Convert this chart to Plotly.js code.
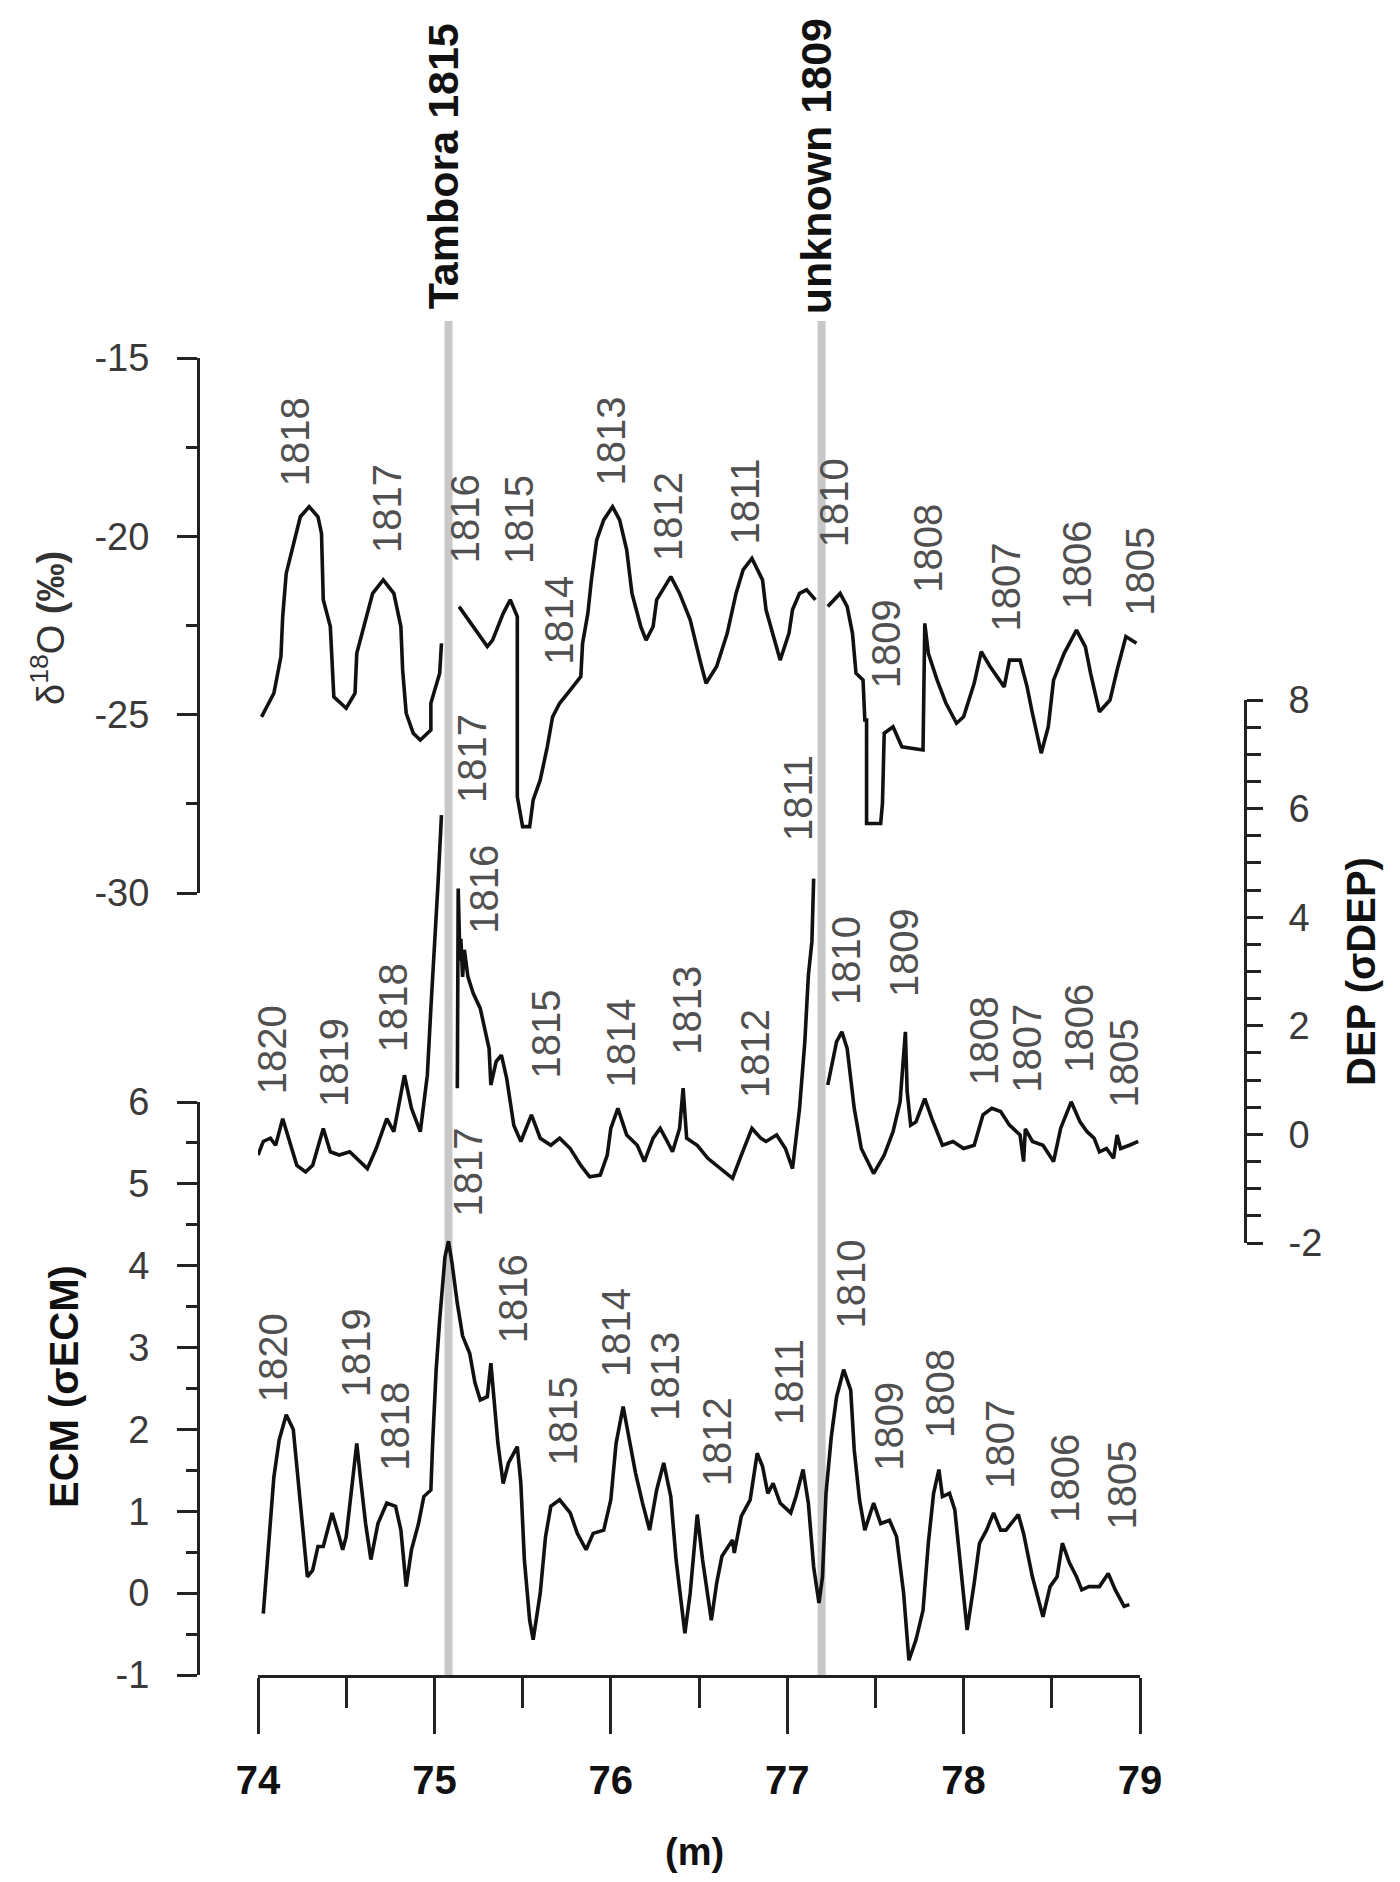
<!DOCTYPE html>
<html>
<head>
<meta charset="utf-8">
<script src="https://cdn.plot.ly/plotly-3.0.1.min.js"></script>
<style>
  html, body { margin: 0; padding: 0; background: #fff; }
  #chart { width: 1400px; height: 1882px; }
</style>
</head>
<body>
<div id="chart"></div>
<script>
/* Ice core series, depth in m (null = gap at the marker lines) */
let d18oDepth = [74.02,74.09,74.13,74.14,74.16,74.21,74.24,74.29,74.34,74.36,74.37,74.41,74.43,74.50,74.55,74.56,74.62,74.65,74.71,74.77,74.81,74.82,74.84,74.88,74.92,74.98,74.98,75.03,75.04,null,
  75.14,75.22,75.30,75.33,75.39,75.43,75.47,75.47,75.50,75.54,75.56,75.60,75.64,75.67,75.71,75.77,75.83,75.84,75.87,75.89,75.92,75.96,76.01,76.05,76.09,76.12,76.17,76.20,76.24,76.26,76.34,76.39,76.45,76.51,76.54,76.60,76.66,76.71,76.75,76.80,76.86,76.88,76.92,76.96,77.01,77.03,77.07,77.11,77.16,null,
  77.23,77.30,77.34,77.37,77.39,77.43,77.44,77.45,77.45,77.53,77.54,77.55,77.60,77.65,77.77,77.78,77.80,77.85,77.90,77.96,78.00,78.06,78.10,78.15,78.23,78.26,78.32,78.36,78.39,78.44,78.48,78.51,78.57,78.64,78.69,78.72,78.77,78.83,78.87,78.92,78.98];
let d18oValues = [-25.06,-24.40,-23.37,-22.25,-21.04,-20.10,-19.45,-19.17,-19.45,-19.92,-21.78,-22.53,-24.50,-24.82,-24.40,-23.28,-22.16,-21.60,-21.22,-21.60,-22.53,-23.75,-24.96,-25.52,-25.71,-25.43,-24.68,-23.84,-23.00,null,
  -21.97,-22.53,-23.09,-22.91,-22.16,-21.78,-22.25,-27.30,-28.14,-28.14,-27.39,-26.83,-25.90,-25.06,-24.68,-24.31,-23.93,-23.00,-22.16,-21.22,-20.10,-19.54,-19.17,-19.54,-20.38,-21.60,-22.53,-22.91,-22.53,-21.78,-21.13,-21.60,-22.34,-23.56,-24.12,-23.65,-22.72,-21.60,-20.94,-20.62,-21.22,-22.06,-22.81,-23.47,-22.72,-22.06,-21.60,-21.50,-21.78,null,
  -21.97,-21.60,-21.97,-22.72,-23.84,-24.03,-25.15,-25.15,-28.05,-28.05,-27.49,-25.52,-25.34,-25.90,-25.99,-22.44,-23.28,-24.03,-24.68,-25.24,-25.06,-24.12,-23.23,-23.65,-24.22,-23.47,-23.47,-24.22,-24.96,-26.08,-25.34,-24.03,-23.28,-22.63,-23.09,-23.84,-24.92,-24.59,-23.75,-22.81,-23.00];

let depDepth = [74.00,74.03,74.07,74.10,74.14,74.18,74.22,74.27,74.31,74.37,74.41,74.46,74.52,74.62,74.67,74.73,74.77,74.83,74.87,74.92,74.96,74.98,75.00,75.02,75.04,null,
  75.13,75.135,75.145,75.15,75.16,75.17,75.19,75.22,75.26,75.31,75.32,75.35,75.38,75.41,75.45,75.49,75.55,75.60,75.66,75.71,75.77,75.83,75.88,75.94,75.98,76.00,76.04,76.09,76.15,76.19,76.24,76.28,76.32,76.35,76.39,76.41,76.43,76.49,76.55,76.64,76.69,76.74,76.80,76.85,76.88,76.94,76.99,77.03,77.07,77.10,77.12,77.14,77.15,null,
  77.23,77.28,77.31,77.34,77.38,77.42,77.49,77.55,77.60,77.64,77.67,77.68,77.70,77.73,77.78,77.82,77.88,77.94,78.00,78.06,78.11,78.16,78.21,78.26,78.32,78.34,78.35,78.39,78.45,78.51,78.55,78.61,78.66,78.70,78.74,78.77,78.81,78.85,78.87,78.89,78.94,78.99];
let depValues = [-0.38,-0.13,-0.07,-0.20,0.29,-0.13,-0.57,-0.69,-0.57,0.11,-0.32,-0.38,-0.32,-0.63,-0.26,0.29,0.05,1.09,0.48,0.05,1.09,2.32,3.36,4.59,5.88,null,
  0.85,4.53,3.20,3.60,2.90,3.40,2.90,2.60,2.32,1.58,0.91,1.34,1.46,1.03,0.17,-0.13,0.36,-0.07,-0.20,-0.07,-0.26,-0.57,-0.78,-0.75,-0.38,0.11,0.48,-0.01,-0.20,-0.50,-0.07,0.11,-0.13,-0.32,0.11,0.85,-0.07,-0.20,-0.44,-0.69,-0.81,-0.38,0.11,-0.07,-0.13,-0.01,-0.26,-0.63,0.48,1.71,2.93,3.55,4.71,null,
  0.91,1.71,1.89,1.58,0.48,-0.26,-0.72,-0.38,0.05,0.60,1.89,0.79,0.17,0.23,0.66,0.29,-0.20,-0.13,-0.26,-0.20,0.36,0.48,0.42,0.17,-0.01,-0.50,0.10,-0.13,-0.20,-0.50,0.11,0.60,0.23,0.05,-0.07,-0.32,-0.26,-0.44,-0.01,-0.26,-0.20,-0.13];

let ecmDepth = [74.03,74.06,74.09,74.12,74.16,74.20,74.23,74.26,74.28,74.31,74.34,74.37,74.42,74.46,74.48,74.50,74.53,74.56,74.58,74.61,74.64,74.68,74.73,74.78,74.81,74.84,74.87,74.91,74.94,74.98,74.99,75.01,75.03,75.06,75.08,75.10,75.13,75.16,75.20,75.23,75.26,75.30,75.32,75.34,75.36,75.39,75.42,75.47,75.49,75.51,75.54,75.56,75.60,75.63,75.66,75.71,75.77,75.81,75.86,75.90,75.96,76.00,76.03,76.07,76.11,76.14,76.18,76.22,76.26,76.30,76.34,76.37,76.42,76.45,76.49,76.52,76.57,76.60,76.63,76.69,76.70,76.74,76.79,76.83,76.86,76.89,76.92,76.96,77.02,77.05,77.09,77.12,77.15,77.18,77.20,77.22,77.25,77.28,77.32,77.36,77.38,77.41,77.44,77.49,77.53,77.58,77.62,77.66,77.69,77.73,77.77,77.80,77.83,77.86,77.88,77.92,77.95,77.98,78.02,78.06,78.09,78.13,78.17,78.21,78.24,78.31,78.34,78.39,78.45,78.49,78.53,78.56,78.60,78.64,78.67,78.71,78.77,78.82,78.86,78.91,78.94];
let ecmValues = [-0.25,0.61,1.42,1.87,2.18,2.00,1.34,0.61,0.20,0.28,0.57,0.57,0.98,0.69,0.53,0.69,1.30,1.83,1.42,0.85,0.41,0.85,1.10,1.06,0.77,0.08,0.53,0.85,1.18,1.26,1.83,2.73,3.34,4.11,4.30,4.03,3.54,3.14,2.93,2.57,2.36,2.40,2.81,2.32,1.83,1.34,1.59,1.79,1.34,0.41,-0.33,-0.57,0.00,0.69,1.06,1.14,0.98,0.73,0.53,0.73,0.77,1.14,1.83,2.28,1.83,1.47,1.10,0.77,1.26,1.59,1.18,0.41,-0.49,0.00,0.96,0.41,-0.33,0.12,0.45,0.65,0.49,0.94,1.14,1.71,1.55,1.22,1.34,1.10,0.98,1.18,1.51,1.10,0.32,-0.12,0.20,1.22,1.91,2.40,2.73,2.48,1.75,1.14,0.77,1.10,0.85,0.89,0.69,0.00,-0.82,-0.57,-0.21,0.61,1.22,1.51,1.18,1.22,1.02,0.41,-0.45,0.12,0.61,0.77,0.98,0.77,0.77,0.96,0.73,0.20,-0.29,0.08,0.20,0.61,0.37,0.20,0.04,0.08,0.08,0.24,0.04,-0.16,-0.14];

/* Tick values and their labels (plain hyphen, as in the original) */
let d18oTicks = [-30, -25, -20, -15];
let d18oTickText = ['-30', '-25', '-20', '-15'];
let depTicks = [-2, 0, 2, 4, 6, 8];
let depTickText = ['-2', '0', '2', '4', '6', '8'];
let ecmTicks = [-1, 0, 1, 2, 3, 4, 5, 6];
let ecmTickText = ['-1', '0', '1', '2', '3', '4', '5', '6'];

/* Annual layer labels: year, depth, value on the series axis */
let d18oLabelYears = ['1818','1817','1816','1815','1814','1813','1812','1811','1810','1809','1808','1807','1806','1805'];
let d18oLabelDepth = [74.21,74.73,75.17,75.48,75.71,76.00,76.32,76.76,77.27,77.56,77.80,78.24,78.64,79.00];
let d18oLabelValue = [-17.36,-19.21,-19.51,-19.54,-22.35,-17.32,-19.45,-19.03,-19.05,-23.00,-20.34,-21.41,-20.80,-20.99];

let depLabelYears = ['1820','1819','1818','1817','1816','1815','1814','1813','1812','1811','1810','1809','1808','1807','1806','1805'];
let depLabelDepth = [74.08,74.43,74.77,75.21,75.28,75.63,76.06,76.43,76.82,77.06,77.33,77.66,78.12,78.36,78.65,78.91];
let depLabelValue = [1.55,1.33,2.34,6.92,4.52,1.85,1.68,2.29,1.49,6.19,3.20,3.35,1.73,1.58,1.95,1.31];

let ecmLabelYears = ['1820','1819','1818','1817','1816','1815','1814','1813','1812','1811','1810','1809','1808','1807','1806','1805'];
let ecmLabelDepth = [74.09,74.56,74.78,75.19,75.45,75.73,76.03,76.31,76.60,77.01,77.36,77.58,77.87,78.21,78.57,78.90];
let ecmLabelValue = [2.88,2.94,2.04,5.15,3.60,2.10,3.18,2.65,1.85,2.58,3.78,2.04,2.44,1.82,1.40,1.32];

/* Volcanic events */
let eventNames = ['Tambora 1815', 'unknown 1809'];
let eventDepth = [75.08, 77.195];

const FONT = 'Liberation Sans, Arial, sans-serif';
const W = 1400, H = 1882;

// pixel helpers for paper coordinates
function px(x) { return x / W; }
function py(y) { return (H - y) / H; }

function yearLabels(years, depth, value, yref) {
  return years.map(function(t, i) {
    return {
      text: t, x: depth[i], y: value[i], xref: 'x', yref: yref,
      textangle: -90, showarrow: false, xanchor: 'center', yanchor: 'middle',
      font: { family: FONT, size: 40, color: '#505050' }
    };
  });
}

function init() {
  let lineStyle = { color: '#111', width: 3.6 };
  let traces = [
    { x: d18oDepth, y: d18oValues, xaxis: 'x', yaxis: 'y2', mode: 'lines', line: lineStyle, connectgaps: false, hoverinfo: 'skip' },
    { x: depDepth, y: depValues, xaxis: 'x', yaxis: 'y3', mode: 'lines', line: lineStyle, connectgaps: false, hoverinfo: 'skip' },
    { x: ecmDepth, y: ecmValues, xaxis: 'x', yaxis: 'y', mode: 'lines', line: lineStyle, hoverinfo: 'skip' }
  ];

  let tickFont = { family: FONT, size: 38, color: '#3a3a3a' };
  let axisBase = {
    showgrid: false, zeroline: false, showline: true, linecolor: '#222', linewidth: 3,
    ticks: 'outside', tickcolor: '#222', tickwidth: 3, tickfont: tickFont
  };

  let shapes = eventDepth.map(function(d) {
    return {
      type: 'line', xref: 'x', yref: 'paper', x0: d, x1: d, y0: py(1675), y1: py(321),
      line: { color: '#c8c8c8', width: 8 }, layer: 'below'
    };
  });

  let annotations = []
    .concat(yearLabels(d18oLabelYears, d18oLabelDepth, d18oLabelValue, 'y2'))
    .concat(yearLabels(depLabelYears, depLabelDepth, depLabelValue, 'y3'))
    .concat(yearLabels(ecmLabelYears, ecmLabelDepth, ecmLabelValue, 'y'));

  eventNames.forEach(function(name, i) {
    annotations.push({
      text: '<b>' + name + '</b>', x: eventDepth[i] - 0.03, y: py(166), xref: 'x', yref: 'paper',
      textangle: -90, showarrow: false, xanchor: 'center', yanchor: 'middle',
      font: { family: FONT, size: 43, color: '#111' }
    });
  });

  // axis titles
  annotations.push({
    text: 'δ<sup>18</sup>O <b>(‰)</b>', x: px(48), y: py(628), xref: 'paper', yref: 'paper',
    textangle: -90, showarrow: false, xanchor: 'center', yanchor: 'middle',
    font: { family: FONT, size: 38, color: '#333' }
  });
  annotations.push({
    text: '<b>ECM (σECM)</b>', x: px(64), y: py(1387), xref: 'paper', yref: 'paper',
    textangle: -90, showarrow: false, xanchor: 'center', yanchor: 'middle',
    font: { family: FONT, size: 40, color: '#111' }
  });
  annotations.push({
    text: '<b>DEP (σDEP)</b>', x: px(1361), y: py(972), xref: 'paper', yref: 'paper',
    textangle: -90, showarrow: false, xanchor: 'center', yanchor: 'middle',
    font: { family: FONT, size: 40, color: '#111' }
  });
  annotations.push({
    text: '<b>(m)</b>', x: px(694), y: py(1852), xref: 'paper', yref: 'paper',
    showarrow: false, xanchor: 'center', yanchor: 'middle',
    font: { family: FONT, size: 38, color: '#111' }
  });

  let layout = {
    width: W, height: H,
    margin: { l: 0, r: 0, t: 0, b: 0 },
    paper_bgcolor: '#fff', plot_bgcolor: 'rgba(0,0,0,0)',
    showlegend: false,
    xaxis: Object.assign({}, axisBase, {
      domain: [px(258), px(1140)], range: [74, 79], anchor: 'y',
      tick0: 74, dtick: 1, ticklen: 56, ticklabelstandoff: 12,
      tickfont: { family: FONT, size: 40, color: '#111', weight: 'bold' },
      minor: { dtick: 0.5, ticklen: 30, tickwidth: 3, tickcolor: '#222', ticks: 'outside' }
    }),
    yaxis: Object.assign({}, axisBase, {
      domain: [py(1675), py(1102)], range: [-1, 6], anchor: 'free', position: px(198), side: 'left',
      tickmode: 'array', tickvals: ecmTicks, ticktext: ecmTickText, ticklen: 20, ticklabelstandoff: 20,
      minor: { tickmode: 'linear', tick0: 0, dtick: 0.5, ticklen: 11, tickwidth: 3, tickcolor: '#222', ticks: 'outside' }
    }),
    yaxis2: Object.assign({}, axisBase, {
      domain: [py(893), py(358)], range: [-30, -15], anchor: 'free', position: px(198), side: 'left',
      tickmode: 'array', tickvals: d18oTicks, ticktext: d18oTickText, ticklen: 20, ticklabelstandoff: 20,
      minor: { tickmode: 'linear', tick0: 0, dtick: 2.5, ticklen: 11, tickwidth: 3, tickcolor: '#222', ticks: 'outside' }
    }),
    yaxis3: Object.assign({}, axisBase, {
      domain: [py(1243), py(700)], range: [-2, 8], anchor: 'free', position: px(1245), side: 'right',
      tickmode: 'array', tickvals: depTicks, ticktext: depTickText, ticklen: 16, ticklabelstandoff: 18,
      minor: { tickmode: 'linear', tick0: 0, dtick: 0.5, ticklen: 14, tickwidth: 3, tickcolor: '#222', ticks: 'outside' }
    }),
    shapes: shapes,
    annotations: annotations
  };

  Plotly.newPlot('chart', traces, layout, { staticPlot: true, displayModeBar: false });
}

window.onload = init;
</script>
</body>
</html>
